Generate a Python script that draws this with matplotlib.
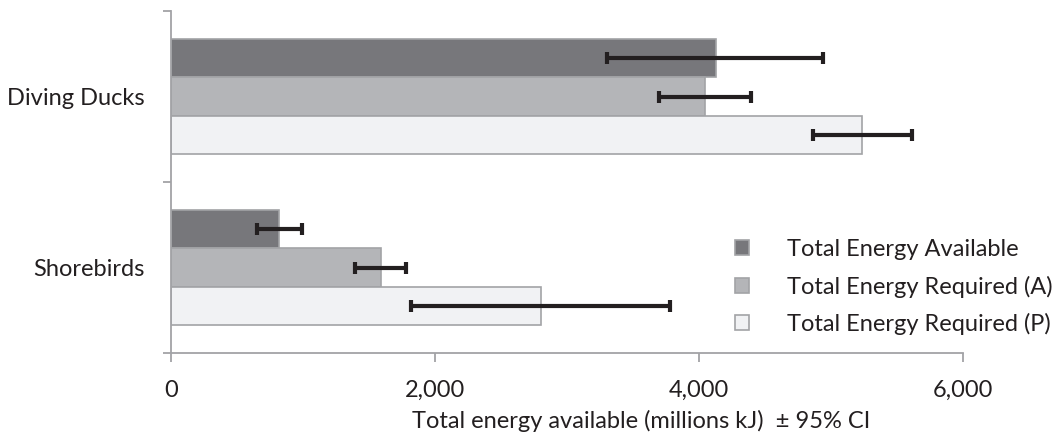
import numpy as np
import matplotlib.pyplot as plt
from matplotlib.patches import Patch

plt.rcParams['font.family'] = ['Lato', 'DejaVu Sans']

# data, order: Diving Ducks, Shorebirds
groups = ['Diving Ducks', 'Shorebirds']
series = ['Total Energy Available', 'Total Energy Required (A)', 'Total Energy Required (P)']
available = [4130, 820]
available_lo = [3300, 650]
available_hi = [4940, 990]
required_a = [4045, 1590]
required_a_lo = [3695, 1395]
required_a_hi = [4395, 1780]
required_p = [5235, 2800]
required_p_lo = [4860, 1815]
required_p_hi = [5615, 3780]
xticks = [0, 2000, 4000, 6000]

colors = ['#77777b', '#b4b5b8', '#f1f2f4']
edge = '#a2a3a6'
txt = '#231f20'

fig = plt.figure(figsize=(10.61, 4.38), dpi=100)
ax = fig.add_axes([171 / 1061, 85 / 438, 792 / 1061, 342 / 438])

ypos = np.array([1, 0])
h = 0.224
offsets = [h, 0, -h]
vals = [available, required_a, required_p]
los = [available_lo, required_a_lo, required_p_lo]
his = [available_hi, required_a_hi, required_p_hi]

for i in range(3):
    y = ypos + offsets[i]
    v = np.array(vals[i])
    ax.barh(y, v, height=h, color=colors[i], edgecolor=edge, linewidth=1.2, zorder=2)
    err = [v - np.array(los[i]), np.array(his[i]) - v]
    ax.errorbar(v, y, xerr=err, fmt='none', ecolor=txt, elinewidth=3,
                capsize=4.5, capthick=3, zorder=3)

ax.set_xlim(0, 6000)
ax.set_ylim(-0.5, 1.5)
ax.set_xticks(xticks)
ax.set_xticklabels([f'{t:,}' for t in xticks])
ax.set_yticks(ypos)
ax.set_yticklabels(groups)
ax.set_yticks([-0.5, 0.5, 1.5], minor=True)

for s in ['top', 'right']:
    ax.spines[s].set_visible(False)
for s in ['left', 'bottom']:
    ax.spines[s].set_color(edge)
    ax.spines[s].set_linewidth(1.3)

ax.tick_params(axis='y', which='major', length=0, pad=19, labelsize=17, labelcolor=txt)
ax.tick_params(axis='y', which='minor', length=6, width=1.3, color=edge)
ax.tick_params(axis='x', length=6.5, width=1.3, color=edge, pad=13, labelsize=17, labelcolor=txt)

ax.set_xlabel('Total energy available (millions kJ)  \u00b1 95% CI', fontsize=17, color=txt)
ax.xaxis.set_label_coords((641 - 171) / 792, -0.165)

handles = [Patch(facecolor=colors[i], edgecolor=edge, linewidth=1.2) for i in range(3)]
leg = ax.legend(handles, series, loc='upper left', bbox_to_anchor=(0.712, 0.333),
                frameon=False, fontsize=17, handlelength=0.6, handleheight=0.6,
                handletextpad=1.6, labelspacing=0.65, borderpad=0, borderaxespad=0,
                labelcolor=txt)

fig.savefig('out.png', dpi=100)
